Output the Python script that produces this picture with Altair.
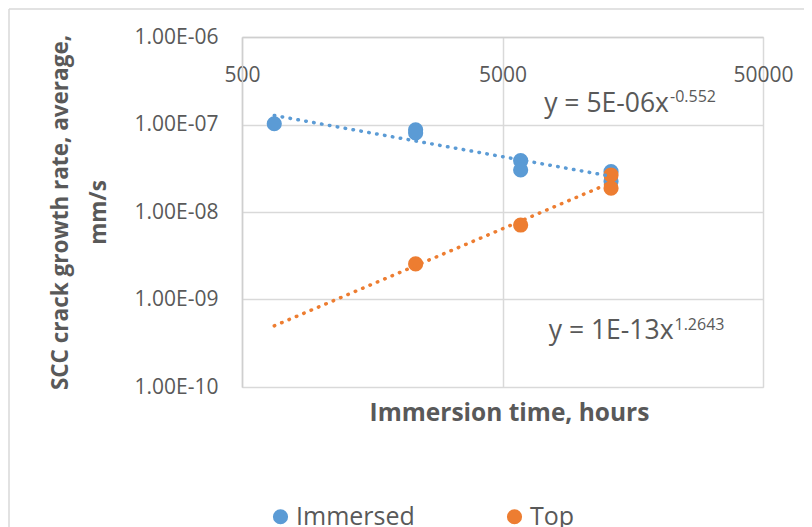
import altair as alt
import pandas as pd

# ---- data ----
immersed_hours = [665, 2320, 2320, 5870, 5870, 13050, 13050]
immersed_rate = [1.02e-7, 8.7e-8, 8.0e-8, 3.86e-8, 3.02e-8, 2.9e-8, 2.25e-8]
top_hours = [2320, 5870, 13050, 13050]
top_rate = [2.55e-9, 7.1e-9, 2.65e-8, 1.87e-8]

series_names = ["Immersed", "Top"]
series_colors = ["#5B9BD5", "#ED7D31"]
x_ticks = [500, 5000, 50000]
y_ticks = [1e-10, 1e-9, 1e-8, 1e-7, 1e-6]
trend_extent = [665, 13050]

eq_main = ["y = 5E-06x", "y = 1E-13x"]
eq_exp = ["-0.552", "1.2643"]
eq_hours = [21780, 22670]
eq_main_rate = [1.71e-7, 4.37e-10]
eq_exp_rate = [2.06e-7, 5.1e-10]

# ---- tables ----
df = pd.DataFrame({
    "hours": immersed_hours + top_hours,
    "rate": immersed_rate + top_rate,
    "series": [series_names[0]] * len(immersed_hours) + [series_names[1]] * len(top_hours),
})
eq_main_df = pd.DataFrame({"hours": eq_hours, "rate": eq_main_rate, "label": eq_main})
eq_exp_df = pd.DataFrame({"hours": eq_hours, "rate": eq_exp_rate, "label": eq_exp})
frame_df = pd.DataFrame({"k": [0]})

FONT = "Open Sans"
TXT = "#595959"
GRID = "#d9d9d9"

color_scale = alt.Scale(domain=series_names, range=series_colors)

x_enc = alt.X(
    "hours:Q",
    scale=alt.Scale(type="log", domain=[500, 50000], nice=False),
    axis=alt.Axis(
        orient="top", values=x_ticks, format="d",
        grid=True, gridColor=GRID, gridWidth=1.5,
        domainColor="#cfcfcf", domainWidth=1.5,
        ticks=False, tickSize=0,
        labelPadding=-38, labelBaseline="middle", labelFlush=False,
        labelOverlap=False, labelBound=False,
        labelFontSize=21, labelColor=TXT, labelFont=FONT,
        title="Immersion time, hours", titleFont=FONT, titleFontSize=24.5,
        titleFontWeight="bold", titleColor=TXT,
        titleX=267, titleY=376, titleAlign="center", titleBaseline="middle",
    ),
)
y_enc = alt.Y(
    "rate:Q",
    scale=alt.Scale(type="log", domain=[1e-10, 1e-6], nice=False),
    axis=alt.Axis(
        values=y_ticks,
        labelExpr="'1.00E-' + format(round(-log(datum.value)/LN10), '02d')",
        grid=True, gridColor=GRID, gridWidth=1.5,
        domainColor="#cfcfcf", domainWidth=1.5,
        ticks=False, tickSize=0, labelPadding=24,
        labelOverlap=False, labelFlush=False,
        labelFontSize=21, labelColor=TXT, labelFont=FONT,
        title=["SCC crack growth rate, average,", "mm/s"],
        titleFont=FONT, titleFontSize=22.5, titleFontWeight="bold", titleColor=TXT,
        titleAngle=270, titleX=-182, titleY=175, titleAlign="center",
        titleBaseline="middle", titleLineHeight=38,
    ),
)

points = alt.Chart(df).mark_circle(size=230, opacity=1).encode(
    x=x_enc,
    y=y_enc,
    color=alt.Color(
        "series:N", scale=color_scale,
        legend=alt.Legend(
            orient="none", legendX=26, legendY=467, direction="horizontal",
            title=None, symbolType="circle", symbolSize=230, symbolStrokeWidth=0,
            labelFont=FONT, labelFontSize=25, labelColor=TXT, labelOffset=3,
            columnPadding=87, padding=0,
        ),
    ),
)

trend = alt.Chart(df).transform_regression(
    "hours", "rate", method="pow", groupby=["series"], extent=trend_extent
).mark_line(strokeDash=[0.5, 7.5], strokeCap="round", strokeWidth=3.5).encode(
    x="hours:Q",
    y="rate:Q",
    color=alt.Color("series:N", scale=color_scale, legend=None),
)

eq_main_txt = alt.Chart(eq_main_df).mark_text(
    align="right", baseline="middle", font=FONT, fontSize=26.5, color=TXT
).encode(x="hours:Q", y="rate:Q", text="label:N")

eq_exp_txt = alt.Chart(eq_exp_df).mark_text(
    align="left", baseline="middle", font=FONT, fontSize=16, color=TXT, dx=1
).encode(x="hours:Q", y="rate:Q", text="label:N")

frame_left = alt.Chart(frame_df).mark_rule(color=GRID, strokeWidth=1.5).encode(
    x=alt.value(-233), y=alt.value(-28), y2=alt.value(560)
)
frame_top = alt.Chart(frame_df).mark_rule(color=GRID, strokeWidth=1.5).encode(
    x=alt.value(-233), x2=alt.value(600), y=alt.value(-28)
)

chart = alt.layer(
    frame_left, frame_top, points, trend, eq_main_txt, eq_exp_txt
).properties(
    width=521, height=350,
    autosize=alt.AutoSizeParams(type="none"),
    padding={"left": 234, "top": 29, "right": 41, "bottom": 160},
).configure_view(stroke=None).configure(font=FONT)

chart.save("out.html", embed_options={"renderer": "svg", "actions": False})
